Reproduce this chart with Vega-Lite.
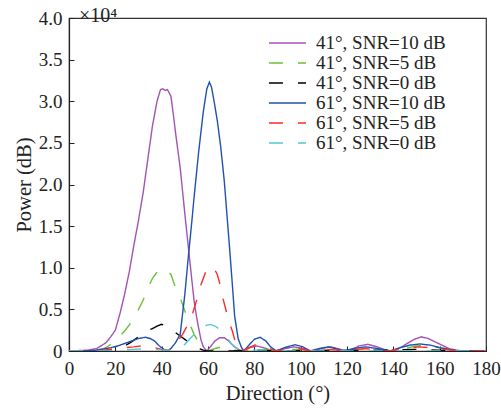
{
  "$schema": "https://vega.github.io/schema/vega-lite/v6.json",
  "width": 417,
  "height": 333,
  "autosize": "none",
  "padding": {"left": 69, "top": 18, "right": 15, "bottom": 61},
  "background": "white",
  "title": {"text": "×10⁴", "anchor": "start", "frame": "group", "dx": 10, "dy": 17, "offset": 0, "fontSize": 20, "font": "Liberation Serif", "fontWeight": "normal", "color": "#222"},
  "config": {
    "view": {"stroke": "#333", "strokeWidth": 1.2},
    "axis": {"domainColor": "#222", "tickColor": "#222", "labelColor": "#222", "titleColor": "#222", "labelFont": "Liberation Serif", "titleFont": "Liberation Serif", "labelFontSize": 19, "titleFontSize": 20.5, "titleFontWeight": "normal", "grid": false, "tickSize": -5, "domainWidth": 1.2},
    "legend": {"labelFont": "Liberation Serif", "labelFontSize": 19, "labelColor": "#222"}
  },
  "data": {"values": [
    {"s":"41°, SNR=10 dB","d":0,"v":0},{"s":"41°, SNR=10 dB","d":4,"v":0.005},{"s":"41°, SNR=10 dB","d":8,"v":0.01},{"s":"41°, SNR=10 dB","d":12,"v":0.03},{"s":"41°, SNR=10 dB","d":16,"v":0.1},{"s":"41°, SNR=10 dB","d":18,"v":0.17},{"s":"41°, SNR=10 dB","d":20,"v":0.25},{"s":"41°, SNR=10 dB","d":22,"v":0.45},{"s":"41°, SNR=10 dB","d":24,"v":0.68},{"s":"41°, SNR=10 dB","d":26,"v":0.95},{"s":"41°, SNR=10 dB","d":28,"v":1.27},{"s":"41°, SNR=10 dB","d":30,"v":1.57},{"s":"41°, SNR=10 dB","d":32,"v":1.9},{"s":"41°, SNR=10 dB","d":34,"v":2.3},{"s":"41°, SNR=10 dB","d":36,"v":2.7},{"s":"41°, SNR=10 dB","d":38,"v":3.0},{"s":"41°, SNR=10 dB","d":39.5,"v":3.14},{"s":"41°, SNR=10 dB","d":40.5,"v":3.15},{"s":"41°, SNR=10 dB","d":41.5,"v":3.13},{"s":"41°, SNR=10 dB","d":42.5,"v":3.14},{"s":"41°, SNR=10 dB","d":44,"v":3.06},{"s":"41°, SNR=10 dB","d":45,"v":2.85},{"s":"41°, SNR=10 dB","d":46,"v":2.62},{"s":"41°, SNR=10 dB","d":48,"v":2.2},{"s":"41°, SNR=10 dB","d":50,"v":1.65},{"s":"41°, SNR=10 dB","d":52,"v":1.12},{"s":"41°, SNR=10 dB","d":54,"v":0.6},{"s":"41°, SNR=10 dB","d":55,"v":0.42},{"s":"41°, SNR=10 dB","d":56,"v":0.27},{"s":"41°, SNR=10 dB","d":57,"v":0.13},{"s":"41°, SNR=10 dB","d":58,"v":0.05},{"s":"41°, SNR=10 dB","d":59.5,"v":0},{"s":"41°, SNR=10 dB","d":61,"v":0.05},{"s":"41°, SNR=10 dB","d":63,"v":0.12},{"s":"41°, SNR=10 dB","d":65,"v":0.16},{"s":"41°, SNR=10 dB","d":67,"v":0.16},{"s":"41°, SNR=10 dB","d":69,"v":0.12},{"s":"41°, SNR=10 dB","d":71,"v":0.06},{"s":"41°, SNR=10 dB","d":73,"v":0.02},{"s":"41°, SNR=10 dB","d":75,"v":0},{"s":"41°, SNR=10 dB","d":78,"v":0.04},{"s":"41°, SNR=10 dB","d":81,"v":0.06},{"s":"41°, SNR=10 dB","d":84,"v":0.04},{"s":"41°, SNR=10 dB","d":88,"v":0},{"s":"41°, SNR=10 dB","d":92,"v":0.02},{"s":"41°, SNR=10 dB","d":97,"v":0.05},{"s":"41°, SNR=10 dB","d":101,"v":0.03},{"s":"41°, SNR=10 dB","d":105,"v":0},{"s":"41°, SNR=10 dB","d":109,"v":0.03},{"s":"41°, SNR=10 dB","d":113,"v":0.05},{"s":"41°, SNR=10 dB","d":117,"v":0.02},{"s":"41°, SNR=10 dB","d":121,"v":0},{"s":"41°, SNR=10 dB","d":125,"v":0.06},{"s":"41°, SNR=10 dB","d":129,"v":0.08},{"s":"41°, SNR=10 dB","d":133,"v":0.05},{"s":"41°, SNR=10 dB","d":137,"v":0.01},{"s":"41°, SNR=10 dB","d":140,"v":0},{"s":"41°, SNR=10 dB","d":143,"v":0.04},{"s":"41°, SNR=10 dB","d":146,"v":0.09},{"s":"41°, SNR=10 dB","d":149,"v":0.14},{"s":"41°, SNR=10 dB","d":152,"v":0.17},{"s":"41°, SNR=10 dB","d":155,"v":0.15},{"s":"41°, SNR=10 dB","d":158,"v":0.11},{"s":"41°, SNR=10 dB","d":161,"v":0.07},{"s":"41°, SNR=10 dB","d":164,"v":0.03},{"s":"41°, SNR=10 dB","d":167,"v":0.01},{"s":"41°, SNR=10 dB","d":170,"v":0},{"s":"41°, SNR=10 dB","d":180,"v":0},

    {"s":"41°, SNR=5 dB","d":0,"v":0},{"s":"41°, SNR=5 dB","d":8,"v":0},{"s":"41°, SNR=5 dB","d":12,"v":0.01},{"s":"41°, SNR=5 dB","d":15,"v":0.03},{"s":"41°, SNR=5 dB","d":17,"v":0.06},{"s":"41°, SNR=5 dB","d":20,"v":0.12},{"s":"41°, SNR=5 dB","d":22,"v":0.18},{"s":"41°, SNR=5 dB","d":24,"v":0.24},{"s":"41°, SNR=5 dB","d":26,"v":0.31},{"s":"41°, SNR=5 dB","d":28,"v":0.4},{"s":"41°, SNR=5 dB","d":30,"v":0.5},{"s":"41°, SNR=5 dB","d":32,"v":0.61},{"s":"41°, SNR=5 dB","d":34,"v":0.75},{"s":"41°, SNR=5 dB","d":36,"v":0.87},{"s":"41°, SNR=5 dB","d":38,"v":0.95},{"s":"41°, SNR=5 dB","d":40,"v":0.98},{"s":"41°, SNR=5 dB","d":42,"v":0.98},{"s":"41°, SNR=5 dB","d":44,"v":0.92},{"s":"41°, SNR=5 dB","d":46,"v":0.76},{"s":"41°, SNR=5 dB","d":48,"v":0.64},{"s":"41°, SNR=5 dB","d":50,"v":0.48},{"s":"41°, SNR=5 dB","d":52,"v":0.33},{"s":"41°, SNR=5 dB","d":54,"v":0.2},{"s":"41°, SNR=5 dB","d":56,"v":0.1},{"s":"41°, SNR=5 dB","d":58,"v":0.03},{"s":"41°, SNR=5 dB","d":60,"v":0},{"s":"41°, SNR=5 dB","d":63,"v":0.03},{"s":"41°, SNR=5 dB","d":66,"v":0.05},{"s":"41°, SNR=5 dB","d":69,"v":0.03},{"s":"41°, SNR=5 dB","d":72,"v":0.01},{"s":"41°, SNR=5 dB","d":75,"v":0},{"s":"41°, SNR=5 dB","d":80,"v":0.02},{"s":"41°, SNR=5 dB","d":83,"v":0.03},{"s":"41°, SNR=5 dB","d":87,"v":0.01},{"s":"41°, SNR=5 dB","d":90,"v":0},{"s":"41°, SNR=5 dB","d":96,"v":0.02},{"s":"41°, SNR=5 dB","d":100,"v":0.02},{"s":"41°, SNR=5 dB","d":105,"v":0},{"s":"41°, SNR=5 dB","d":110,"v":0.01},{"s":"41°, SNR=5 dB","d":114,"v":0.02},{"s":"41°, SNR=5 dB","d":120,"v":0},{"s":"41°, SNR=5 dB","d":125,"v":0.02},{"s":"41°, SNR=5 dB","d":129,"v":0.03},{"s":"41°, SNR=5 dB","d":134,"v":0.01},{"s":"41°, SNR=5 dB","d":140,"v":0},{"s":"41°, SNR=5 dB","d":145,"v":0.03},{"s":"41°, SNR=5 dB","d":150,"v":0.06},{"s":"41°, SNR=5 dB","d":154,"v":0.065},{"s":"41°, SNR=5 dB","d":158,"v":0.05},{"s":"41°, SNR=5 dB","d":162,"v":0.03},{"s":"41°, SNR=5 dB","d":166,"v":0.01},{"s":"41°, SNR=5 dB","d":170,"v":0},{"s":"41°, SNR=5 dB","d":180,"v":0},

    {"s":"41°, SNR=0 dB","d":0,"v":0},{"s":"41°, SNR=0 dB","d":15,"v":0},{"s":"41°, SNR=0 dB","d":20,"v":0.02},{"s":"41°, SNR=0 dB","d":24,"v":0.06},{"s":"41°, SNR=0 dB","d":27,"v":0.11},{"s":"41°, SNR=0 dB","d":30,"v":0.17},{"s":"41°, SNR=0 dB","d":33,"v":0.23},{"s":"41°, SNR=0 dB","d":36,"v":0.27},{"s":"41°, SNR=0 dB","d":38,"v":0.3},{"s":"41°, SNR=0 dB","d":40,"v":0.32},{"s":"41°, SNR=0 dB","d":42,"v":0.3},{"s":"41°, SNR=0 dB","d":44,"v":0.27},{"s":"41°, SNR=0 dB","d":46,"v":0.22},{"s":"41°, SNR=0 dB","d":48,"v":0.18},{"s":"41°, SNR=0 dB","d":50,"v":0.14},{"s":"41°, SNR=0 dB","d":52,"v":0.1},{"s":"41°, SNR=0 dB","d":54,"v":0.06},{"s":"41°, SNR=0 dB","d":56,"v":0.03},{"s":"41°, SNR=0 dB","d":58,"v":0.01},{"s":"41°, SNR=0 dB","d":59.5,"v":0},{"s":"41°, SNR=0 dB","d":70,"v":0},{"s":"41°, SNR=0 dB","d":80,"v":0.01},{"s":"41°, SNR=0 dB","d":90,"v":0},{"s":"41°, SNR=0 dB","d":130,"v":0.01},{"s":"41°, SNR=0 dB","d":150,"v":0.02},{"s":"41°, SNR=0 dB","d":160,"v":0.01},{"s":"41°, SNR=0 dB","d":170,"v":0},{"s":"41°, SNR=0 dB","d":180,"v":0},

    {"s":"61°, SNR=10 dB","d":0,"v":0},{"s":"61°, SNR=10 dB","d":6,"v":0},{"s":"61°, SNR=10 dB","d":10,"v":0.005},{"s":"61°, SNR=10 dB","d":14,"v":0.02},{"s":"61°, SNR=10 dB","d":18,"v":0.04},{"s":"61°, SNR=10 dB","d":21,"v":0.06},{"s":"61°, SNR=10 dB","d":24,"v":0.09},{"s":"61°, SNR=10 dB","d":27,"v":0.12},{"s":"61°, SNR=10 dB","d":30,"v":0.15},{"s":"61°, SNR=10 dB","d":33,"v":0.165},{"s":"61°, SNR=10 dB","d":35,"v":0.15},{"s":"61°, SNR=10 dB","d":37,"v":0.12},{"s":"61°, SNR=10 dB","d":39,"v":0.06},{"s":"61°, SNR=10 dB","d":41,"v":0.02},{"s":"61°, SNR=10 dB","d":42.5,"v":0},{"s":"61°, SNR=10 dB","d":44,"v":0.03},{"s":"61°, SNR=10 dB","d":46,"v":0.1},{"s":"61°, SNR=10 dB","d":48,"v":0.2},{"s":"61°, SNR=10 dB","d":50,"v":0.68},{"s":"61°, SNR=10 dB","d":51.5,"v":1.13},{"s":"61°, SNR=10 dB","d":53,"v":1.55},{"s":"61°, SNR=10 dB","d":54,"v":1.85},{"s":"61°, SNR=10 dB","d":56,"v":2.4},{"s":"61°, SNR=10 dB","d":58,"v":2.88},{"s":"61°, SNR=10 dB","d":59.5,"v":3.15},{"s":"61°, SNR=10 dB","d":60.6,"v":3.23},{"s":"61°, SNR=10 dB","d":61.5,"v":3.17},{"s":"61°, SNR=10 dB","d":62.5,"v":3.02},{"s":"61°, SNR=10 dB","d":64,"v":2.77},{"s":"61°, SNR=10 dB","d":65.5,"v":2.45},{"s":"61°, SNR=10 dB","d":67,"v":2.05},{"s":"61°, SNR=10 dB","d":68,"v":1.7},{"s":"61°, SNR=10 dB","d":69.5,"v":1.17},{"s":"61°, SNR=10 dB","d":70.5,"v":0.8},{"s":"61°, SNR=10 dB","d":71.5,"v":0.42},{"s":"61°, SNR=10 dB","d":73,"v":0.15},{"s":"61°, SNR=10 dB","d":74.5,"v":0.04},{"s":"61°, SNR=10 dB","d":75.5,"v":0},{"s":"61°, SNR=10 dB","d":78,"v":0.08},{"s":"61°, SNR=10 dB","d":80,"v":0.14},{"s":"61°, SNR=10 dB","d":82.5,"v":0.165},{"s":"61°, SNR=10 dB","d":85,"v":0.12},{"s":"61°, SNR=10 dB","d":87,"v":0.05},{"s":"61°, SNR=10 dB","d":89.5,"v":0},{"s":"61°, SNR=10 dB","d":93,"v":0.04},{"s":"61°, SNR=10 dB","d":97.5,"v":0.075},{"s":"61°, SNR=10 dB","d":101,"v":0.05},{"s":"61°, SNR=10 dB","d":104,"v":0},{"s":"61°, SNR=10 dB","d":108,"v":0.03},{"s":"61°, SNR=10 dB","d":112,"v":0.05},{"s":"61°, SNR=10 dB","d":115,"v":0.03},{"s":"61°, SNR=10 dB","d":118.5,"v":0},{"s":"61°, SNR=10 dB","d":123,"v":0.03},{"s":"61°, SNR=10 dB","d":128,"v":0.05},{"s":"61°, SNR=10 dB","d":133,"v":0.03},{"s":"61°, SNR=10 dB","d":138.5,"v":0},{"s":"61°, SNR=10 dB","d":143,"v":0.04},{"s":"61°, SNR=10 dB","d":147,"v":0.07},{"s":"61°, SNR=10 dB","d":151.5,"v":0.085},{"s":"61°, SNR=10 dB","d":156,"v":0.07},{"s":"61°, SNR=10 dB","d":160,"v":0.04},{"s":"61°, SNR=10 dB","d":164,"v":0.02},{"s":"61°, SNR=10 dB","d":168.5,"v":0},{"s":"61°, SNR=10 dB","d":180,"v":0},

    {"s":"61°, SNR=5 dB","d":0,"v":0},{"s":"61°, SNR=5 dB","d":10,"v":0},{"s":"61°, SNR=5 dB","d":15,"v":0.01},{"s":"61°, SNR=5 dB","d":20,"v":0.03},{"s":"61°, SNR=5 dB","d":24,"v":0.04},{"s":"61°, SNR=5 dB","d":28,"v":0.05},{"s":"61°, SNR=5 dB","d":31,"v":0.06},{"s":"61°, SNR=5 dB","d":34,"v":0.055},{"s":"61°, SNR=5 dB","d":37,"v":0.04},{"s":"61°, SNR=5 dB","d":40,"v":0.02},{"s":"61°, SNR=5 dB","d":43,"v":0.01},{"s":"61°, SNR=5 dB","d":45,"v":0.05},{"s":"61°, SNR=5 dB","d":47,"v":0.12},{"s":"61°, SNR=5 dB","d":49,"v":0.2},{"s":"61°, SNR=5 dB","d":51,"v":0.3},{"s":"61°, SNR=5 dB","d":53,"v":0.42},{"s":"61°, SNR=5 dB","d":55,"v":0.6},{"s":"61°, SNR=5 dB","d":57,"v":0.8},{"s":"61°, SNR=5 dB","d":59,"v":0.95},{"s":"61°, SNR=5 dB","d":61,"v":1.02},{"s":"61°, SNR=5 dB","d":62.5,"v":1.0},{"s":"61°, SNR=5 dB","d":64,"v":0.92},{"s":"61°, SNR=5 dB","d":65,"v":0.82},{"s":"61°, SNR=5 dB","d":66,"v":0.68},{"s":"61°, SNR=5 dB","d":67.5,"v":0.52},{"s":"61°, SNR=5 dB","d":69,"v":0.36},{"s":"61°, SNR=5 dB","d":70.5,"v":0.24},{"s":"61°, SNR=5 dB","d":71.5,"v":0.14},{"s":"61°, SNR=5 dB","d":73,"v":0.05},{"s":"61°, SNR=5 dB","d":74.5,"v":0},{"s":"61°, SNR=5 dB","d":77,"v":0.03},{"s":"61°, SNR=5 dB","d":80,"v":0.07},{"s":"61°, SNR=5 dB","d":83,"v":0.08},{"s":"61°, SNR=5 dB","d":86,"v":0.04},{"s":"61°, SNR=5 dB","d":89,"v":0},{"s":"61°, SNR=5 dB","d":95,"v":0.02},{"s":"61°, SNR=5 dB","d":99,"v":0.03},{"s":"61°, SNR=5 dB","d":104,"v":0},{"s":"61°, SNR=5 dB","d":110,"v":0.01},{"s":"61°, SNR=5 dB","d":113,"v":0.02},{"s":"61°, SNR=5 dB","d":118,"v":0},{"s":"61°, SNR=5 dB","d":125,"v":0.02},{"s":"61°, SNR=5 dB","d":128,"v":0.03},{"s":"61°, SNR=5 dB","d":133,"v":0.01},{"s":"61°, SNR=5 dB","d":138,"v":0},{"s":"61°, SNR=5 dB","d":145,"v":0.03},{"s":"61°, SNR=5 dB","d":151,"v":0.05},{"s":"61°, SNR=5 dB","d":156,"v":0.04},{"s":"61°, SNR=5 dB","d":162,"v":0.02},{"s":"61°, SNR=5 dB","d":168,"v":0},{"s":"61°, SNR=5 dB","d":180,"v":0},

    {"s":"61°, SNR=0 dB","d":0,"v":0},{"s":"61°, SNR=0 dB","d":15,"v":0},{"s":"61°, SNR=0 dB","d":22,"v":0.01},{"s":"61°, SNR=0 dB","d":28,"v":0.02},{"s":"61°, SNR=0 dB","d":32,"v":0.025},{"s":"61°, SNR=0 dB","d":36,"v":0.02},{"s":"61°, SNR=0 dB","d":40,"v":0.01},{"s":"61°, SNR=0 dB","d":44,"v":0.01},{"s":"61°, SNR=0 dB","d":47,"v":0.04},{"s":"61°, SNR=0 dB","d":50,"v":0.08},{"s":"61°, SNR=0 dB","d":52,"v":0.14},{"s":"61°, SNR=0 dB","d":54,"v":0.2},{"s":"61°, SNR=0 dB","d":57,"v":0.26},{"s":"61°, SNR=0 dB","d":59.5,"v":0.31},{"s":"61°, SNR=0 dB","d":61,"v":0.32},{"s":"61°, SNR=0 dB","d":63,"v":0.3},{"s":"61°, SNR=0 dB","d":66,"v":0.24},{"s":"61°, SNR=0 dB","d":68,"v":0.17},{"s":"61°, SNR=0 dB","d":70,"v":0.09},{"s":"61°, SNR=0 dB","d":72,"v":0.04},{"s":"61°, SNR=0 dB","d":74,"v":0.01},{"s":"61°, SNR=0 dB","d":76,"v":0},{"s":"61°, SNR=0 dB","d":80,"v":0.01},{"s":"61°, SNR=0 dB","d":85,"v":0.01},{"s":"61°, SNR=0 dB","d":90,"v":0},{"s":"61°, SNR=0 dB","d":180,"v":0}
  ]},
  "mark": {"type": "line", "strokeWidth": 1.4, "clip": true},
  "encoding": {
    "x": {"field": "d", "type": "quantitative", "scale": {"domain": [0, 180], "nice": false, "zero": false},
      "axis": {"title": "Direction (°)", "values": [0,20,40,60,80,100,120,140,160,180], "labelPadding": 13, "titlePadding": 5, "labelFlush": false}},
    "y": {"field": "v", "type": "quantitative", "scale": {"domain": [0, 4], "nice": false},
      "axis": {"title": "Power (dB)", "values": [0,0.5,1,1.5,2,2.5,3,3.5,4], "labelExpr": "datum.value == 0 ? '0' : format(datum.value, '.1f')", "labelPadding": 12, "titlePadding": 4, "labelFlush": false}},
    "color": {"field": "s", "type": "nominal",
      "scale": {"domain": ["41°, SNR=10 dB","41°, SNR=5 dB","41°, SNR=0 dB","61°, SNR=10 dB","61°, SNR=5 dB","61°, SNR=0 dB"],
        "range": ["#a452b4","#6cbf3a","#000000","#2050b0","#ff2a2a","#50c8d8"]},
      "legend": {"title": null, "orient": "none", "legendX": 209, "legendY": 15.5, "symbolType": "M-4,0H4", "symbolSize": 86, "symbolStrokeWidth": 1.5, "labelOffset": 19, "rowPadding": 0, "padding": 0}},
    "strokeDash": {"field": "s", "type": "nominal",
      "scale": {"domain": ["41°, SNR=10 dB","41°, SNR=5 dB","41°, SNR=0 dB","61°, SNR=10 dB","61°, SNR=5 dB","61°, SNR=0 dB"],
        "range": [[1,0],[14,15],[14,15],[1,0],[14,15],[14,15]]},
      "legend": {"title": null, "orient": "none", "legendX": 209, "legendY": 15.5, "symbolType": "M-4,0H4", "symbolSize": 86, "symbolStrokeWidth": 1.5, "labelOffset": 19, "rowPadding": 0, "padding": 0}}
  }
}
